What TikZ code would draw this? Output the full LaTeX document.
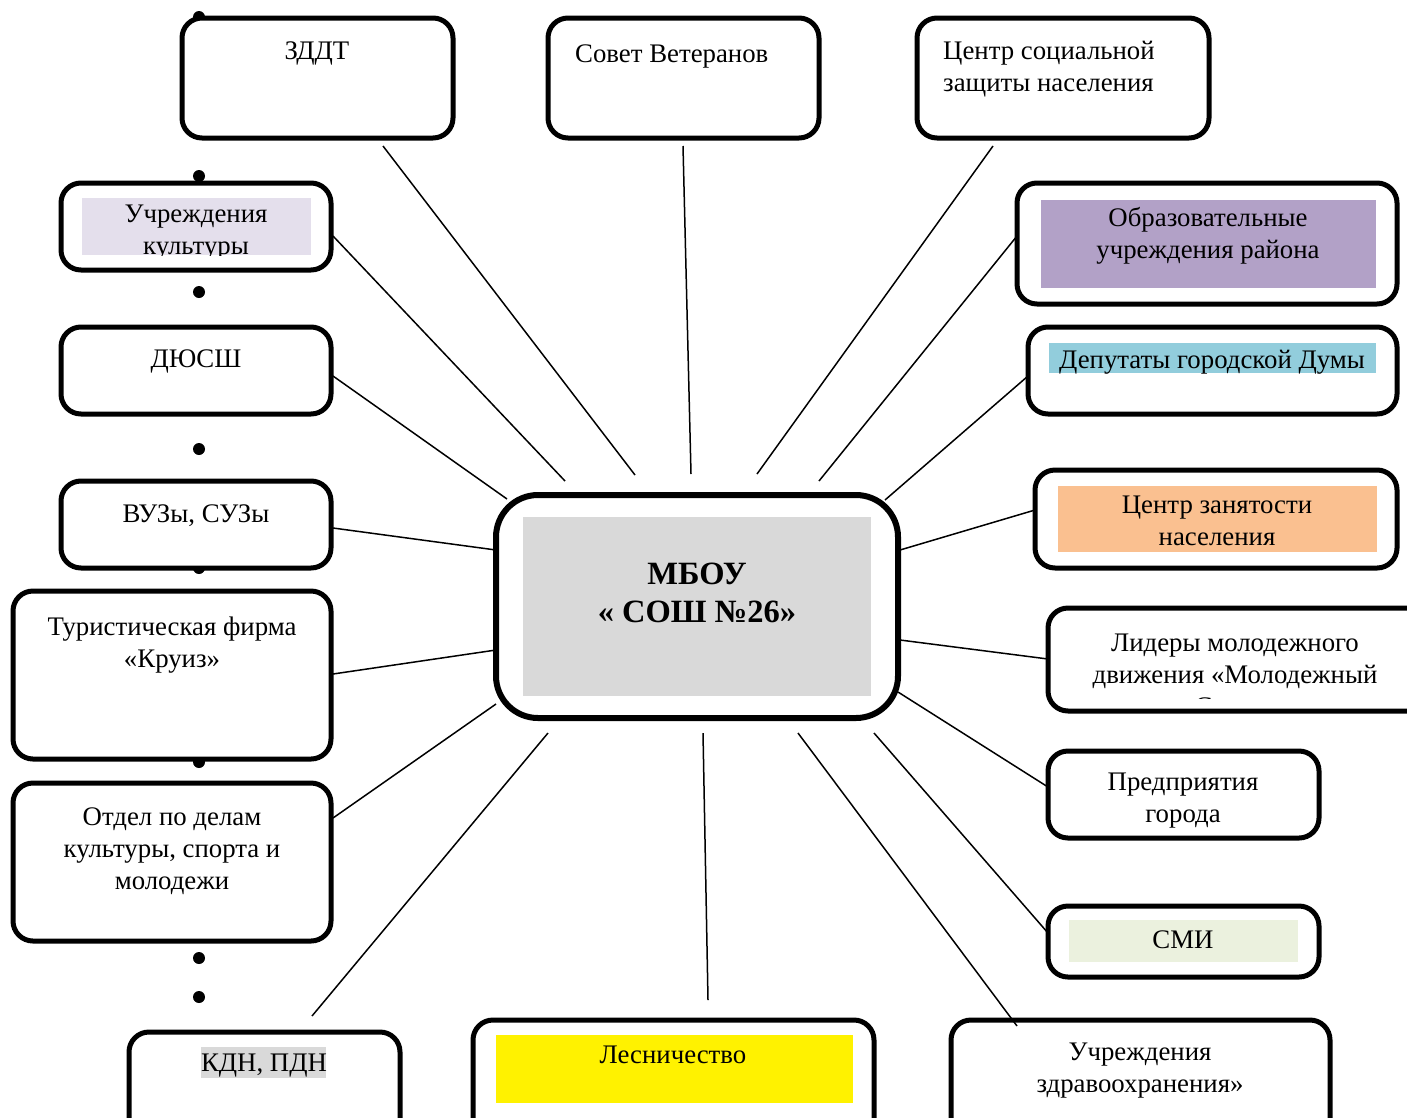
\documentclass[tikz,border=0pt]{standalone}
\usepackage{fontspec}
\setmainfont{Liberation Serif}
\begin{document}
\begin{tikzpicture}[x=1pt, y=-1pt,
    card/.style={draw, line width=5pt, rounded corners=20pt, fill=white, inner sep=0pt},
    hub/.style={card, line width=6pt, rounded corners=42pt},
    lbl/.style={font=\fontsize{26.8}{32}\selectfont, align=center, inner sep=0pt, yshift=-3pt},
    bulletdot/.style={circle, fill=black, inner sep=0pt, minimum size=12pt},
    link/.style={line width=1.5pt}
    ]
\useasboundingbox (0,0) rectangle (1407,1117);
% list bullets behind the left column
\foreach \y in {17,176,292,449,568,762,958,997}
  \node[bulletdot] at (199,\y) {};
% boxes
\node[card, minimum width=271pt, minimum height=120pt] (zddt)  at (317.5,78)   {};
\node[card, minimum width=271pt, minimum height=120pt] (sovet) at (683.5,78)   {};
\node[card, minimum width=292pt, minimum height=120pt] (soczash) at (1063,78)  {};
\node[card, minimum width=270pt, minimum height=87pt]  (kult)  at (196,226.5)  {};
\node[card, minimum width=270pt, minimum height=87pt]  (dyussh) at (196,370.5) {};
\node[card, minimum width=270pt, minimum height=87pt]  (vuz)   at (196,524.5)  {};
\node[card, minimum width=318pt, minimum height=168pt] (turfirma) at (172,675) {};
\node[card, minimum width=318pt, minimum height=158pt] (otdel) at (172,862)    {};
\node[card, minimum width=271pt, minimum height=120pt] (kdn)   at (264.5,1092) {};
\node[card, minimum width=401pt, minimum height=120pt] (lesn)  at (673.5,1080) {};
\node[card, minimum width=379pt, minimum height=120pt] (zdrav) at (1140.5,1080) {};
\node[card, minimum width=271pt, minimum height=71pt]  (smi)   at (1183.5,941.5) {};
\node[card, minimum width=271pt, minimum height=87pt]  (predpr) at (1183.5,794.5) {};
\node[card, minimum width=400pt, minimum height=103pt] (lidery) at (1248,659.5) {};
\node[card, minimum width=362pt, minimum height=98pt]  (zanyat) at (1216,519)  {};
\node[card, minimum width=369pt, minimum height=87pt]  (deput) at (1212.5,370.5) {};
\node[card, minimum width=380pt, minimum height=121pt] (obrazov) at (1207,243.5) {};
\node[hub,  minimum width=402pt, minimum height=223pt] (school) at (697,606.5) {};
% highlight fills
\fill[fill={rgb,255:red,228;green,223;blue,236}] (82,198) rectangle (311,255);
\fill[fill={rgb,255:red,178;green,161;blue,199}] (1041,200) rectangle (1376,288);
\fill[fill={rgb,255:red,146;green,205;blue,220}] (1049,343) rectangle (1376,373);
\fill[fill={rgb,255:red,250;green,192;blue,144}] (1058,486) rectangle (1377,552);
\fill[fill={rgb,255:red,235;green,241;blue,222}] (1069,920) rectangle (1298,962);
\fill[fill=yellow] (496,1035) rectangle (853,1103);
\fill[fill={rgb,255:red,217;green,217;blue,217}] (201,1047) rectangle (326,1078);
\fill[fill={rgb,255:red,217;green,217;blue,217}] (523,517) rectangle (871,696);
% labels
\node[lbl] (zddt-t) at (317,50) {ЗДДТ};
\node[lbl, anchor=west] (sovet-t) at (575,53) {Совет Ветеранов};
\node[lbl, anchor=west, align=left] (soczash-t) at (943,66) {Центр социальной\\защиты населения};
\begin{scope}
  \clip (82,198) rectangle (311,255);
  \node[lbl] (kult-t) at (196,230) {Учреждения\\культуры};
\end{scope}
\node[lbl] (dyussh-t) at (196,358) {ДЮСШ};
\node[lbl] (vuz-t) at (196,513) {ВУЗы, СУЗы};
\node[lbl] (turfirma-t) at (172,642) {Туристическая фирма\\«Круиз»};
\node[lbl] (otdel-t) at (172,848) {Отдел по делам\\культуры, спорта и\\молодежи};
\node[lbl] (kdn-t) at (264,1063) {КДН, ПДН};
\node[lbl] (lesn-t) at (673,1052) {Лесничество};
\node[lbl] (zdrav-t) at (1140,1068) {Учреждения\\здравоохранения»};
\node[lbl] (smi-t) at (1183,937) {СМИ};
\node[lbl] (predpr-t) at (1183,798) {Предприятия\\города};
\begin{scope}
  \clip (1050,612) rectangle (1407,698);
  \node[lbl] (lidery-t) at (1235,672) {Лидеры молодежного\\движения «Молодежный\\Совет»};
\end{scope}
\node[lbl] (zanyat-t) at (1217,518) {Центр занятости\\населения};
\node[lbl] (deput-t) at (1212,359) {Депутаты городской Думы};
\node[lbl] (obrazov-t) at (1208,232.5) {Образовательные\\учреждения района};
\node[lbl, font=\fontsize{32.5}{38}\selectfont\bfseries] (school-t) at (697,590) {МБОУ\\« СОШ №26»};
% connector ends
\coordinate (zddt-e) at (383,146);   \coordinate (zddt-s) at (635,475);
\coordinate (sovet-e) at (683,146);  \coordinate (sovet-s) at (691,474);
\coordinate (soczash-e) at (993,146); \coordinate (soczash-s) at (757,474);
\coordinate (kult-e) at (333,236);   \coordinate (kult-s) at (565,481);
\coordinate (obrazov-e) at (1017,236); \coordinate (obrazov-s) at (819,481);
\coordinate (dyussh-e) at (333,376); \coordinate (dyussh-s) at (507,499);
\coordinate (deput-e) at (1028,376); \coordinate (deput-s) at (885,500);
\coordinate (vuz-e) at (333,528);    \coordinate (vuz-s) at (496,550);
\coordinate (zanyat-e) at (1035,510); \coordinate (zanyat-s) at (900,550);
\coordinate (turfirma-e) at (333,674); \coordinate (turfirma-s) at (496,650);
\coordinate (lidery-e) at (1048,659); \coordinate (lidery-s) at (900,640);
\coordinate (otdel-e) at (333,818);  \coordinate (otdel-s) at (496,704);
\coordinate (predpr-e) at (1048,787); \coordinate (predpr-s) at (898,692);
\coordinate (kdn-e) at (312,1016);   \coordinate (kdn-s) at (548,733);
\coordinate (lesn-e) at (708,1000);  \coordinate (lesn-s) at (703,733);
\coordinate (zdrav-e) at (1017,1026); \coordinate (zdrav-s) at (798,733);
\coordinate (smi-e) at (1048,933);   \coordinate (smi-s) at (874,733);
\foreach \n in {zddt,sovet,soczash,kult,obrazov,dyussh,deput,vuz,zanyat,turfirma,lidery,otdel,predpr,kdn,lesn,zdrav,smi}
  \draw[link] (\n-e) -- (\n-s);
\end{tikzpicture}
\end{document}
